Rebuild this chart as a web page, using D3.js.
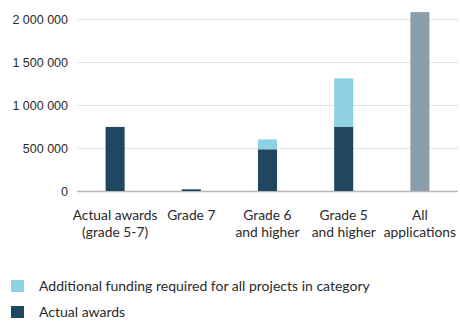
<!DOCTYPE html>
<html>
<head>
<meta charset="utf-8">
<script src="https://cdn.jsdelivr.net/npm/d3@7"></script>
<style>
  html, body { margin: 0; padding: 0; background: #fff; }
  svg { display: block; font-family: Lato, "Open Sans", sans-serif; }
</style>
</head>
<body>
<svg id="chart" width="460" height="325"></svg>
<script>
// Funding by category: actual awards plus the extra needed to fund every project
const categories = [
  ["Actual awards", "(grade 5-7)"],
  ["Grade 7"],
  ["Grade 6", "and higher"],
  ["Grade 5", "and higher"],
  ["All", "applications"]
];
const actualAwards = [745000, 20000, 485000, 748000, 0];
const additionalFunding = [0, 0, 115000, 562000, 0];
const allApplications = [0, 0, 0, 0, 2080000];
const yTicks = [0, 500000, 1000000, 1500000, 2000000];
const legendLabels = ["Additional funding required for all projects in category", "Actual awards"];

const colors = { actual: "#1f4760", additional: "#8dd1e3", all: "#8b9eab", text: "#2a2a2a" };

const svg = d3.select("#chart");
const margin = { top: 19, left: 77, right: 2 };
const plotBottom = 191;
const width = 460 - margin.left - margin.right;

const x = d3.scaleBand()
  .domain(d3.range(categories.length))
  .range([margin.left, margin.left + width])
  .paddingInner(0.75).paddingOuter(0.375);

const y = d3.scaleLinear().domain([0, 2000000]).range([plotBottom, margin.top]);

// horizontal gridlines and value labels
const yAxis = d3.axisLeft(y).tickValues(yTicks).tickSize(-width).tickPadding(9)
  .tickFormat(v => d3.format(",")(v).replace(/,/g, " "));
const gy = svg.append("g").attr("transform", `translate(${margin.left},0)`).call(yAxis);
gy.select(".domain").remove();
gy.selectAll(".tick line").attr("stroke", d => d === 0 ? "#b8b8b8" : "#e2e2e2").attr("stroke-width", d => d === 0 ? 1.5 : 1);
gy.selectAll(".tick text").attr("fill", colors.text).style("font-size", "12.5px");

// stacked bars
const bars = svg.append("g");
categories.forEach((c, i) => {
  const x0 = x(i), bw = x.bandwidth();
  if (actualAwards[i] > 0) {
    bars.append("rect").attr("x", x0).attr("width", bw)
      .attr("y", y(actualAwards[i])).attr("height", y(0) - y(actualAwards[i]))
      .attr("fill", colors.actual);
  }
  if (additionalFunding[i] > 0) {
    const top = actualAwards[i] + additionalFunding[i];
    bars.append("rect").attr("x", x0).attr("width", bw)
      .attr("y", y(top)).attr("height", y(actualAwards[i]) - y(top))
      .attr("fill", colors.additional);
  }
  if (allApplications[i] > 0) {
    bars.append("rect").attr("x", x0).attr("width", bw)
      .attr("y", y(allApplications[i])).attr("height", y(0) - y(allApplications[i]))
      .attr("fill", colors.all);
  }
});

// category labels
const xl = svg.append("g");
categories.forEach((lines, i) => {
  const cx = x(i) + x.bandwidth() / 2;
  const t = xl.append("text")
    .attr("x", cx).attr("y", 220)
    .attr("text-anchor", "middle").attr("fill", colors.text).style("font-size", "13.8px");
  lines.forEach((ln, k) => t.append("tspan").attr("x", cx).attr("dy", k === 0 ? 0 : 16.5).text(ln));
});

// legend
const legend = svg.append("g");
const legendColors = [colors.additional, colors.actual];
legendLabels.forEach((lab, k) => {
  const cy = 286 + k * 26;
  legend.append("rect").attr("x", 11).attr("y", cy - 6).attr("width", 13).attr("height", 12).attr("fill", legendColors[k]);
  legend.append("text").attr("x", 39).attr("y", cy + 5).attr("fill", colors.text)
    .style("font-size", "14px").text(lab);
});
</script>
</body>
</html>
